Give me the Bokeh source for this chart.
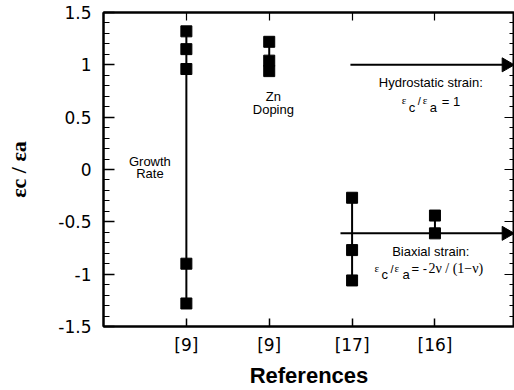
import math
from bokeh.plotting import figure
from bokeh.models import Range1d, LinearAxis, FixedTicker, Label
from bokeh.embed import file_html
from bokeh.resources import INLINE

# ---------------- data ----------------
X_TICKS = [1, 2, 3, 4]
X_TICK_LABELS = ["[9]", "[9]", "[17]", "[16]"]
Y_TICKS = [-1.5, -1.0, -0.5, 0.0, 0.5, 1.0, 1.5]
Y_TICK_LABELS = ["-1.5", "-1", "-0.5", "0", "0.5", "1", "1.5"]
Y_MINOR = [round(-1.5 + 0.1 * i, 2) for i in range(31)]

GROWTH_RATE = [1.32, 1.15, 0.96, -0.90, -1.28]   # ref [9]
ZN_DOPING = [1.22, 1.04, 0.94]                   # ref [9]
REF17 = [-0.27, -0.77, -1.06]                    # ref [17]
REF16 = [-0.44, -0.61]                           # ref [16]
GROUPS = [GROWTH_RATE, ZN_DOPING, REF17, REF16]

ARROW_Y = [1.0, -0.61]          # hydrostatic (=1), biaxial (-2nu/(1-nu))
ARROW_START = [2.98, 2.86]

X_MIN, X_MAX = 0, 4.96
Y_MIN, Y_MAX = -1.5, 1.5
HEAD = 0.10                     # arrow head offset in x units

SANS = "Liberation Sans"
SERIF = "Liberation Serif"
TICKFONT = "DejaVu Sans"

p = figure(width=514, height=390, output_backend="svg", toolbar_location=None,
           x_range=Range1d(X_MIN, X_MAX), y_range=Range1d(Y_MIN, Y_MAX),
           min_border_left=103, min_border_top=12, min_border_right=0,
           min_border_bottom=60)
p.grid.visible = False
p.outline_line_color = "black"
p.outline_line_width = 2

# bottom axis
xa = p.xaxis[0]
xa.ticker = FixedTicker(ticks=X_TICKS, minor_ticks=[])
xa.major_label_overrides = {t: l for t, l in zip(X_TICKS, X_TICK_LABELS)}
xa.major_tick_in = 8
xa.major_tick_out = 0
xa.minor_tick_in = 0
xa.minor_tick_out = 0
xa.axis_line_width = 2
xa.major_tick_line_width = 1.5
xa.major_label_text_font = TICKFONT
xa.major_label_text_font_size = "17px"
xa.major_label_text_color = "black"
xa.major_label_standoff = 8
xa.axis_label = "References"
xa.axis_label_text_font = SANS
xa.axis_label_text_font_style = "bold"
xa.axis_label_text_font_size = "22px"
xa.axis_label_text_color = "black"
xa.axis_label_standoff = 5
xa.level = "overlay"

# left axis
ya = p.yaxis[0]
ya.ticker = FixedTicker(ticks=Y_TICKS, minor_ticks=Y_MINOR)
ya.major_label_overrides = {t: l for t, l in zip(Y_TICKS, Y_TICK_LABELS)}
ya.major_tick_in = 11
ya.major_tick_out = 0
ya.minor_tick_in = 6
ya.minor_tick_out = 0
ya.axis_line_width = 2
ya.major_tick_line_width = 1.5
ya.minor_tick_line_width = 1.2
ya.major_label_text_font = TICKFONT
ya.major_label_text_font_size = "17px"
ya.major_label_text_color = "black"
ya.major_label_standoff = 12
ya.axis_label = "εc / εa"
ya.axis_label_text_font = SERIF
ya.axis_label_text_font_style = "bold"
ya.axis_label_text_font_size = "22px"
ya.axis_label_text_color = "black"
ya.axis_label_standoff = 24
ya.level = "overlay"

# right axis (ticks only)
ra = LinearAxis(ticker=FixedTicker(ticks=Y_TICKS, minor_ticks=Y_MINOR),
                major_label_overrides={t: "" for t in Y_TICKS},
                major_tick_in=10, major_tick_out=0, minor_tick_in=5, minor_tick_out=0,
                major_label_text_font_size="1px", major_label_standoff=0,
                axis_line_width=2, major_tick_line_width=1.2, minor_tick_line_width=1.2,
                level="overlay")
p.add_layout(ra, "right")
# top axis (ticks only)
ta = LinearAxis(ticker=FixedTicker(ticks=X_TICKS, minor_ticks=[]),
                major_label_overrides={t: "" for t in X_TICKS},
                major_tick_in=8, major_tick_out=0, minor_tick_in=0, minor_tick_out=0,
                major_label_text_font_size="1px", major_label_standoff=0,
                axis_line_width=2, major_tick_line_width=1.2, level="overlay")
p.add_layout(ta, "above")

# vertical connecting lines per group
p.segment(x0=X_TICKS, x1=X_TICKS,
          y0=[min(g) for g in GROUPS], y1=[max(g) for g in GROUPS],
          line_color="black", line_width=2)

# squares
xs, ys = [], []
for xv, g in zip(X_TICKS, GROUPS):
    xs += [xv] * len(g)
    ys += g
p.scatter(xs, ys, marker="square", size=11, color="black")

# strain arrows (shaft + head)
p.segment(x0=ARROW_START, x1=[X_MAX - HEAD] * len(ARROW_Y), y0=ARROW_Y, y1=ARROW_Y,
          line_color="black", line_width=2)
p.scatter([X_MAX - HEAD] * len(ARROW_Y), ARROW_Y, marker="triangle",
          angle=-math.pi / 2, size=14, color="black")

def lab(x, y, text, font=SANS, size="13px", align="center", baseline="middle",
        dx=0, dy=0, style="normal"):
    p.add_layout(Label(x=x, y=y, text=text, text_font=font, text_font_size=size,
                       text_align=align, text_baseline=baseline, x_offset=dx,
                       y_offset=dy, text_font_style=style, text_color="black"))

# group annotations
lab(0.56, 0.08, "Growth")
lab(0.56, -0.035, "Rate")
lab(2.05, 0.70, "Zn")
lab(2.05, 0.57, "Doping")
lab(3.95, 0.83, "Hydrostatic strain:")
lab(3.95, -0.78, "Biaxial strain:")

# formula: hydrostatic
HX, HY = 3.6, 0.65
for t, f, s, dx, dy in [("ε", SERIF, "11px", 0, 1), ("c", SANS, "13px", 7, -6),
                        ("/", SANS, "11px", 16, 0), ("ε", SERIF, "11px", 21, 1),
                        ("a", SANS, "13px", 28, -6), ("= 1", SANS, "13px", 40, 0)]:
    lab(HX, HY, t, font=f, size=s, align="left", baseline="alphabetic", dx=dx, dy=dy)

# formula: biaxial
BX, BY = 3.27, -0.95
for t, f, s, dx, dy in [("ε", SERIF, "11px", 0, 1), ("c", SANS, "13px", 7, -6),
                        ("/", SANS, "11px", 16, 0), ("ε", SERIF, "11px", 20, 1),
                        ("a", SANS, "13px", 28, -6), ("= -", SANS, "13px", 37, 0),
                        ("2ν / (1−ν)", SERIF, "14px", 54, 0)]:
    lab(BX, BY, t, font=f, size=s, align="left", baseline="alphabetic", dx=dx, dy=dy)

open("out.html", "w").write(file_html(p, INLINE))
